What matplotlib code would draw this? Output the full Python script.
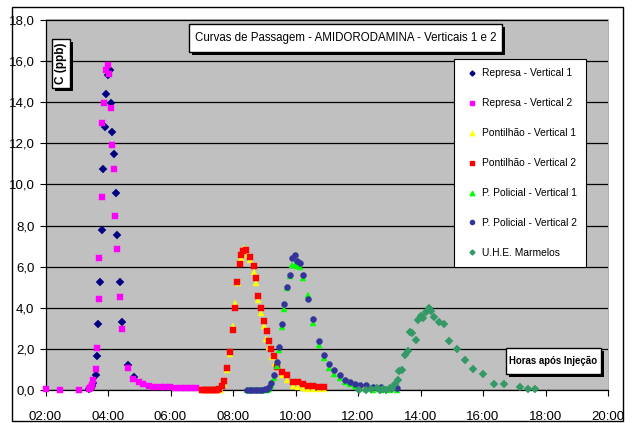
import matplotlib
matplotlib.use("Agg")
import matplotlib.pyplot as plt
from matplotlib.patches import Rectangle
from matplotlib.lines import Line2D
from matplotlib import font_manager

# ---------------- data ----------------
represa_v1_t = [3.39, 3.45, 3.50, 3.53, 3.61, 3.65, 3.69, 3.74, 3.80, 3.84, 3.90, 3.94, 4.01, 4.06,
                4.11, 4.14, 4.20, 4.25, 4.30, 4.38, 4.46, 4.65, 4.82]
represa_v1_c = [0.05, 0.1, 0.2, 0.34, 0.74, 1.68, 3.22, 5.27, 7.77, 10.73, 12.8, 14.38, 15.3, 15.55,
                13.93, 12.52, 11.46, 9.56, 7.54, 5.27, 3.3, 1.24, 0.63]

represa_v2_t = [2.0, 2.47, 3.07, 3.39, 3.42, 3.45, 3.50, 3.53, 3.61, 3.64, 3.70, 3.72, 3.80, 3.82,
                3.88, 3.93, 3.99, 4.04, 4.10, 4.14, 4.19, 4.23, 4.29, 4.37, 4.45, 4.65, 4.81, 4.99,
                5.13, 5.30, 5.47, 5.65, 5.82, 5.98, 6.15, 6.33, 6.49, 6.66, 6.81]
represa_v2_c = [0.05, 0.03, 0.03, 0.06, 0.1, 0.15, 0.26, 0.5, 1.03, 2.07, 4.45, 6.44, 9.37, 13.0,
                13.93, 15.56, 15.79, 15.34, 13.72, 11.9, 10.74, 8.46, 6.84, 4.55, 2.96, 1.1, 0.53, 0.39,
                0.29, 0.21, 0.16, 0.15, 0.15, 0.14, 0.1, 0.1, 0.1, 0.1, 0.1]

pont_v1_t = [7.02, 7.1, 7.2, 7.3, 7.4, 7.5, 7.6, 7.71, 7.81, 7.90, 7.99, 8.06, 8.15, 8.25, 8.35, 8.44,
             8.55, 8.66, 8.74, 8.81, 8.90, 8.99, 9.06, 9.15, 9.25, 9.34, 9.58, 9.74, 9.91, 10.09,
             10.25, 10.41, 10.57, 10.74, 10.90]
pont_v1_c = [0.0, 0.0, 0.0, 0.0, 0.0, 0.0, 0.02, 0.3, 0.98, 1.75, 3.12, 4.25, 5.22, 6.4, 6.89, 6.57,
             6.33, 5.76, 5.22, 4.38, 3.74, 3.12, 2.48, 2.12, 1.63, 1.34, 0.74, 0.5, 0.22, 0.18,
             0.1, 0.08, 0.06, 0.05, 0.05]

pont_v2_t = [7.02, 7.08, 7.14, 7.2, 7.26, 7.32, 7.38, 7.44, 7.5, 7.56, 7.64, 7.72, 7.82, 7.90, 7.99,
             8.06, 8.14, 8.23, 8.26, 8.31, 8.42, 8.54, 8.66, 8.74, 8.81, 8.89, 8.99, 9.08, 9.15,
             9.23, 9.30, 9.40, 9.56, 9.72, 9.91, 10.07, 10.25, 10.41, 10.57, 10.74, 10.90]
pont_v2_c = [0.02, 0.02, 0.02, 0.02, 0.02, 0.02, 0.02, 0.02, 0.03, 0.08, 0.22, 0.47, 1.1, 1.87, 2.93,
             4.01, 5.24, 6.11, 6.57, 6.78, 6.81, 6.49, 6.03, 5.44, 4.59, 4.01, 3.36, 2.88, 2.41,
             2.0, 1.66, 1.12, 0.9, 0.74, 0.42, 0.39, 0.31, 0.22, 0.22, 0.18, 0.18]

pol_v1_t = [8.46, 8.54, 8.62, 8.70, 8.78, 8.86, 8.94, 9.02, 9.08, 9.15, 9.22, 9.30, 9.41, 9.48, 9.56,
            9.64, 9.73, 9.82, 9.90, 9.97, 10.06, 10.14, 10.23, 10.40, 10.56, 10.74, 10.90, 11.07,
            11.24, 11.41, 11.58, 11.74, 11.90, 12.07, 12.25, 12.49, 12.74, 13.0, 13.24]
pol_v1_c = [0.0, 0.0, 0.0, 0.0, 0.0, 0.0, 0.0, 0.0, 0.02, 0.08, 0.25, 0.62, 1.2, 1.95, 3.05,
            3.95, 4.95, 5.55, 6.08, 6.1, 6.05, 6.0, 5.45, 4.63, 3.25, 2.2, 1.55, 1.1,
            0.8, 0.6, 0.4, 0.3, 0.2, 0.1, 0.05, 0.03, 0.02, 0.02, 0.0]

pol_v2_t = [8.46, 8.54, 8.62, 8.70, 8.78, 8.86, 8.94, 9.02, 9.08, 9.15, 9.22, 9.30, 9.41, 9.48, 9.56,
            9.64, 9.73, 9.82, 9.90, 9.97, 10.06, 10.14, 10.23, 10.40, 10.56, 10.74, 10.90, 11.07,
            11.24, 11.41, 11.58, 11.74, 11.90, 12.07, 12.25, 12.49, 12.74, 13.24]
pol_v2_c = [0.02, 0.02, 0.02, 0.02, 0.02, 0.02, 0.03, 0.05, 0.08, 0.18, 0.37, 0.76, 1.36, 2.12, 3.22,
            4.17, 5.0, 5.61, 6.44, 6.57, 6.29, 6.19, 5.61, 4.43, 3.48, 2.39, 1.71, 1.26,
            0.98, 0.74, 0.5, 0.39, 0.31, 0.26, 0.26, 0.17, 0.15, 0.13]

uhe_t = [12.04, 12.26, 12.41, 12.6, 12.7, 12.8, 12.9, 13.02, 13.1, 13.18, 13.27, 13.31, 13.42, 13.50,
         13.59, 13.66, 13.74, 13.85, 13.91, 14.01, 14.08, 14.17, 14.26, 14.34, 14.42, 14.58, 14.76,
         14.92, 15.17, 15.42, 15.67, 16.0, 16.34, 16.67, 17.17, 17.44, 17.67]
uhe_c = [0.0, 0.0, 0.05, 0.1, 0.0, 0.05, 0.02, 0.13, 0.05, 0.31, 0.5, 0.92, 0.97, 1.71,
         1.92, 2.85, 2.77, 2.44, 3.41, 3.61, 3.5, 3.79, 3.98, 3.85, 3.58, 3.3, 3.23,
         2.39, 2.0, 1.47, 1.03, 0.79, 0.32, 0.32, 0.16, 0.08, 0.05]

series_labels = ["Represa - Vertical 1", "Represa - Vertical 2", "Pontilhão - Vertical 1",
                 "Pontilhão - Vertical 2", "P. Policial - Vertical 1", "P. Policial - Vertical 2",
                 "U.H.E. Marmelos"]
x_ticks = [2, 4, 6, 8, 10, 12, 14, 16, 18, 20]
x_ticklabels = ["02:00", "04:00", "06:00", "08:00", "10:00", "12:00", "14:00", "16:00", "18:00", "20:00"]
y_ticks = [0, 2, 4, 6, 8, 10, 12, 14, 16, 18]
y_ticklabels = ["0,0", "2,0", "4,0", "6,0", "8,0", "10,0", "12,0", "14,0", "16,0", "18,0"]
title = "Curvas de Passagem - AMIDORODAMINA - Verticais 1 e 2"

# ---------------- font ----------------
names = {f.name for f in font_manager.fontManager.ttflist}
NARROW = "Liberation Sans Narrow" in names
FONT = "Liberation Sans Narrow" if NARROW else "Liberation Sans"
plt.rcParams["font.family"] = [FONT, "DejaVu Sans"]
k = 1.0 if NARROW else 0.8  # shrink factor for the wider fallback font

W, H = 634, 423
fig = plt.figure(figsize=(W / 100, H / 100), dpi=100)
fig.patch.set_facecolor("white")

def fx(px):
    return px / W

def fy(py):
    return 1 - py / H

ax = fig.add_axes([fx(45.5), fy(390.3), fx(608) - fx(45.5), fy(19.5) - fy(390.3)])
ax.set_facecolor("#C0C0C0")
ax.set_xlim(2, 20)
ax.set_ylim(0, 18)

styles = [
    (represa_v1_t, represa_v1_c, dict(marker="D", color="#000080", ms=3.6)),
    (represa_v2_t, represa_v2_c, dict(marker="s", color="#FF00FF", ms=4.0)),
    (pont_v1_t, pont_v1_c, dict(marker="^", color="#FFFF00", ms=4.6)),
    (pont_v2_t, pont_v2_c, dict(marker="s", color="#FF0000", ms=4.3)),
    (pol_v1_t, pol_v1_c, dict(marker="^", color="#00FF00", ms=4.6)),
    (pol_v2_t, pol_v2_c, dict(marker="o", color="#333399", ms=4.3)),
    (uhe_t, uhe_c, dict(marker="D", color="#339966", ms=3.6)),
]
handles = []
for (t, c, st), lab in zip(styles, series_labels):
    ax.plot(t, c, linestyle="none", marker=st["marker"], ms=st["ms"],
            markerfacecolor=st["color"], markeredgecolor=st["color"], markeredgewidth=0.3,
            clip_on=False, zorder=3)
    handles.append(Line2D([], [], linestyle="none", marker=st["marker"], ms=st["ms"] * 0.7,
                          markerfacecolor=st["color"], markeredgecolor=st["color"], label=lab))

ax.set_xticks(x_ticks)
ax.set_xticklabels(x_ticklabels)
ax.set_yticks(y_ticks)
ax.set_yticklabels(y_ticklabels)
ax.tick_params(axis="both", labelsize=9.5, length=4, width=0.8, direction="out", color="black")
ax.tick_params(axis="x", pad=11)
ax.tick_params(axis="y", pad=4)
ax.grid(axis="y", color="black", linewidth=0.9)
ax.set_axisbelow(True)
for s in ["top", "right"]:
    ax.spines[s].set_color("#A0A0A0")
    ax.spines[s].set_linewidth(0.6)
for s in ["left", "bottom"]:
    ax.spines[s].set_color("black")
    ax.spines[s].set_linewidth(0.9)

# outer border
fig.patches.append(Rectangle((fx(12), fy(421)), fx(623) - fx(12), fy(7) - fy(421),
                             transform=fig.transFigure, fill=False, edgecolor="black",
                             linewidth=1.0, zorder=0))

def box(x0, y0, x1, y1, shadow=True, lw=1.0):
    if shadow:
        fig.patches.append(Rectangle((fx(x0 + 3), fy(y1 + 3)), fx(x1) - fx(x0), fy(y0) - fy(y1),
                                     transform=fig.transFigure, facecolor="black",
                                     edgecolor="none", zorder=5))
    fig.patches.append(Rectangle((fx(x0), fy(y1)), fx(x1) - fx(x0), fy(y0) - fy(y1),
                                 transform=fig.transFigure, facecolor="white",
                                 edgecolor="black", linewidth=lw, zorder=6))

# title
box(189, 24, 502, 52)
fig.text(fx(345.5), fy(38.5), title, ha="center", va="center", fontsize=10.5 * k * 0.99, zorder=7)

# y label
box(52, 39, 70, 88)
fig.text(fx(61), fy(63.5), "C (ppb)", ha="center", va="center", rotation=90,
         fontsize=8.5, fontweight="bold", zorder=7)

# x label
box(506, 348, 601, 374)
fig.text(fx(553.5), fy(361), "Horas após Injeção", ha="center", va="center",
         fontsize=9 * k * 0.97, fontweight="bold", zorder=7)

# legend
lfs = 9.2 * k
leg = ax.legend(handles=handles, loc="upper left",
                bbox_to_anchor=(fx(454), fy(59)), bbox_transform=fig.transFigure,
                fontsize=lfs, frameon=True, fancybox=False, shadow=False,
                labelspacing=1.42 / k ** 1.43, handlelength=1.7, handletextpad=0.1,
                borderpad=0.72 / k, borderaxespad=0, markerscale=1.0)
leg.get_frame().set_edgecolor("black")
leg.get_frame().set_linewidth(0.8)
leg.get_frame().set_facecolor("white")
leg.get_frame().set_alpha(1)
leg.set_zorder(10)

fig.savefig("out.png", dpi=100)
